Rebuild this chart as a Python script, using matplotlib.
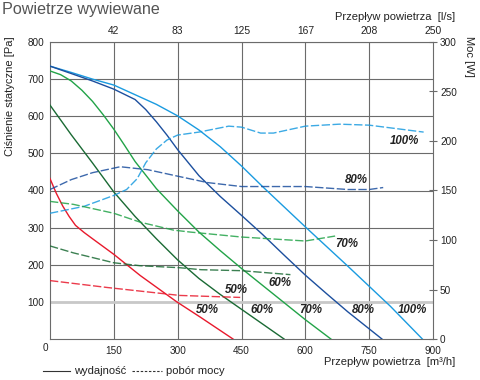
import matplotlib
matplotlib.use("Agg")
import matplotlib.pyplot as plt

plt.rcParams['font.family'] = ['Liberation Sans', 'DejaVu Sans']

# ---- data (flow in m3/h, pressure in Pa, power in W) ----
p100_x = [0, 50, 100, 150, 200, 250, 300, 350, 400, 450, 500, 600, 700, 800, 875]
p100_y = [735, 718, 700, 684, 658, 632, 601, 563, 518, 466, 410, 302, 196, 88, 0]

p80_x = [0, 50, 100, 150, 200, 225, 250, 275, 300, 350, 400, 450, 500, 550, 600, 650, 700, 780]
p80_y = [735, 715, 695, 673, 645, 618, 585, 549, 510, 440, 384, 333, 281, 226, 172, 122, 73, 0]

p70_x = [0, 25, 50, 75, 100, 125, 150, 175, 200, 250, 300, 350, 400, 450, 500, 550, 600, 660]
p70_y = [722, 712, 695, 670, 640, 604, 565, 522, 478, 405, 345, 288, 238, 190, 144, 98, 52, 0]

p60_x = [0, 50, 100, 150, 200, 250, 300, 350, 400, 450, 500, 550]
p60_y = [630, 550, 474, 396, 330, 270, 213, 163, 120, 80, 40, 0]

p50_x = [0, 15, 30, 45, 60, 80, 100, 150, 212, 298, 353, 430]
p50_y = [432, 392, 358, 330, 306, 287, 270, 228, 171, 100, 59, 0]

w100_x = [0, 80, 150, 180, 205, 225, 250, 275, 300, 350, 420, 450, 495, 525, 600, 680, 750, 878]
w100_y = [127, 134, 145, 151, 162, 178, 192, 201, 206, 209, 215, 214, 208, 208, 215, 217, 216, 209]

w80_x = [0, 50, 100, 165, 230, 305, 370, 450, 500, 600, 700, 750, 783]
w80_y = [151, 161, 168, 174, 171, 164, 158, 154, 154, 154, 151, 151, 153]

w70_x = [0, 55, 150, 212, 290, 330, 450, 600, 670]
w70_y = [139, 136, 127, 118, 110, 108, 103, 99, 104]

w60_x = [0, 55, 150, 212, 305, 355, 450, 565]
w60_y = [94, 87, 77, 74, 72, 70, 69, 65]

w50_x = [0, 135, 305, 447]
w50_y = [59, 52, 44, 42]

x_ticks = [0, 150, 300, 450, 600, 750, 900]
top_ticks = [150, 300, 450, 600, 750, 900]
top_labels = ['42', '83', '125', '167', '208', '250']
y_ticks = [100, 200, 300, 400, 500, 600, 700, 800]
w_ticks = [0, 50, 100, 150, 200, 250, 300]

colors = {'100': '#1a9be0', '80': '#1c4f9e', '70': '#22a348', '60': '#1a6a34', '50': '#e8192c'}

fig = plt.figure(figsize=(4.8, 3.8), dpi=100)
ax = fig.add_axes([50/480, 1-339/380, 383/480, 297/380])
ax.set_xlim(0, 900)
ax.set_ylim(0, 800)

gridc = '#6b6b6b'
for v in x_ticks[1:-1]:
    ax.axvline(v, color=gridc, lw=0.8, zorder=1)
for v in y_ticks:
    if v == 100:
        ax.axhline(v, color='#c8c8c8', lw=2.0, zorder=1)
    else:
        ax.axhline(v, color=gridc, lw=0.8, zorder=1)

for s in ax.spines.values():
    s.set_color(gridc)
    s.set_linewidth(0.8)

ax.set_xticks(x_ticks)
ax.set_xticklabels([''] + [str(v) for v in x_ticks[1:]])
ax.set_yticks(y_ticks)
ax.tick_params(axis='both', length=0, labelsize=7.2, colors='#222222', pad=4)
ax.tick_params(axis='x', pad=5)
ax.text(-10, -10, '0', ha='center', va='top', fontsize=7.2, color='#222222')

axw = ax.twinx()
axw.set_ylim(0, 300)
axw.set_yticks(w_ticks)
axw.tick_params(axis='y', direction='inout', length=6, width=0.8, color=gridc,
                labelsize=7.2, labelcolor='#222222', pad=2)
for s in axw.spines.values():
    s.set_visible(False)

axt = ax.twiny()
axt.set_xlim(0, 900)
axt.set_xticks(top_ticks)
axt.set_xticklabels(top_labels)
axt.tick_params(axis='x', length=0, labelsize=7.4, colors='#222222', pad=4)
for s in axt.spines.values():
    s.set_visible(False)

lw = 1.0
for key, xs, ys in [('100', p100_x, p100_y), ('80', p80_x, p80_y), ('70', p70_x, p70_y),
                    ('60', p60_x, p60_y), ('50', p50_x, p50_y)]:
    ax.plot(xs, ys, color=colors[key], lw=lw, zorder=3)
for key, xs, ys in [('100', w100_x, w100_y), ('80', w80_x, w80_y), ('70', w70_x, w70_y),
                    ('60', w60_x, w60_y), ('50', w50_x, w50_y)]:
    axw.plot(xs, ys, color=colors[key], lw=lw, dashes=(6, 1.8), alpha=0.85, zorder=3)

lab = dict(fontsize=8.3, fontweight='bold', fontstyle='italic', color='#222222',
           ha='center', va='center', zorder=5)
ax.text(834, 533, '100%', **lab)
ax.text(721, 428, '80%', **lab)
ax.text(698, 257, '70%', **lab)
ax.text(540, 150, '60%', **lab)
ax.text(437, 132, '50%', **lab)
for xv, t in [(369, '50%'), (498, '60%'), (613, '70%'), (736, '80%'), (851, '100%')]:
    ax.text(xv, 78, t, **lab)

fig.text(2/480, 1-2/380, 'Powietrze wywiewane', fontsize=11.6, color='#555555', ha='left', va='top')
fig.text(455/480, 1-17/380, 'Przepływ powietrza  [l/s]', fontsize=8, color='#222222',
         ha='right', va='center')
fig.text(455/480, 1-362/380, 'Przepływ powietrza  [m³/h]', fontsize=8, color='#222222',
         ha='right', va='center')
fig.text(10/480, 1-36/380, 'Ciśnienie statyczne [Pa]', fontsize=8, color='#222222',
         rotation=90, ha='center', va='top')
fig.text(469/480, 1-36/380, 'Moc [W]', fontsize=8, color='#222222',
         rotation=-90, ha='center', va='top')

# legend
fig.add_artist(plt.Line2D([43/480, 70/480], [1-371/380, 1-371/380], color='#333333', lw=0.8))
fig.text(74/480, 1-371/380, 'wydajność', fontsize=8, color='#222222', ha='left', va='center')
fig.add_artist(plt.Line2D([132/480, 162/480], [1-371/380, 1-371/380], color='#333333', lw=0.8,
                          dashes=(2.2, 1.5)))
fig.text(166/480, 1-371/380, 'pobór mocy', fontsize=8, color='#222222', ha='left', va='center')

fig.savefig('out.png', dpi=100)
